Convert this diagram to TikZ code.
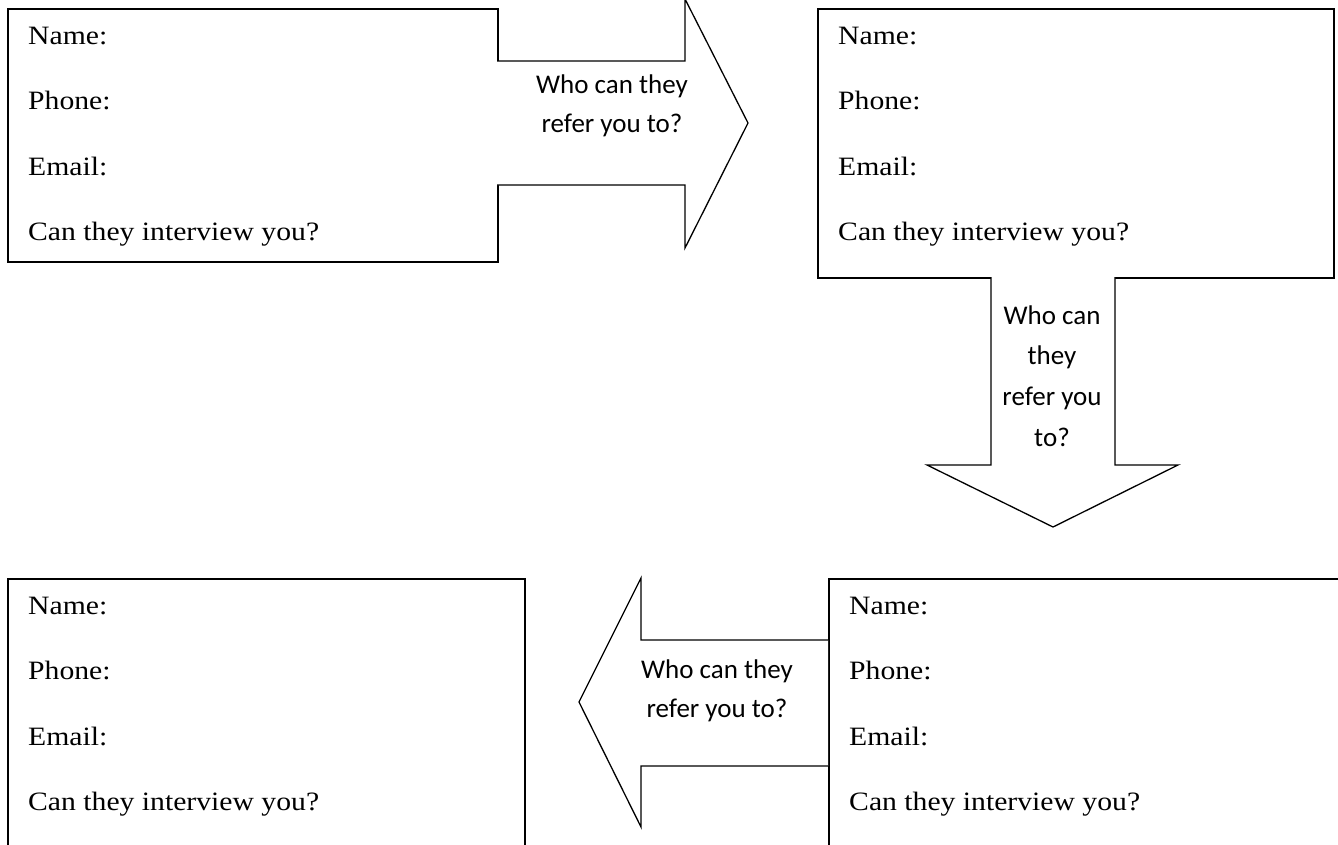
\documentclass[tikz,border=0pt]{standalone}
\usepackage{fontspec}
\setmainfont{Liberation Serif}[FakeStretch=1.12]
\newfontfamily\arrowfont{Carlito}
\tikzset{
  card/.style={draw=black,line width=1.5pt,fill=white,rectangle,inner sep=0pt,anchor=north west},
  field/.style={anchor=base west,inner sep=0pt,font=\fontsize{26.5}{30}\selectfont},
  blockarrow/.style={draw=black,line width=1.3pt,fill=white,line join=miter},
  hlabel/.style={align=center,inner sep=0pt,font=\arrowfont\fontsize{27}{39}\selectfont},
  vlabel/.style={align=center,inner sep=0pt,font=\arrowfont\fontsize{27}{40.7}\selectfont},
}
\begin{document}
\begin{tikzpicture}[x=1pt,y=-1pt]
\useasboundingbox (0,0) rectangle (1338,844);
\begin{scope}
\clip (0,0) rectangle (1338,844);
% boxes
\node[card,minimum width=490pt,minimum height=253pt] (b1) at (7,8) {};
\node[card,minimum width=516pt,minimum height=269pt] (b2) at (817,8) {};
\node[card,minimum width=540pt,minimum height=300pt] (b3) at (828,578) {};
\node[card,minimum width=517pt,minimum height=300pt] (b4) at (7,578) {};
% right arrow (b1 -> b2)
\coordinate (a1s) at (497,61);
\coordinate (a1e) at (497,185);
\draw[blockarrow] (a1s) -- (685,61) -- (685,-1) -- (748,123) -- (685,248) -- (685,185) -- (a1e);
% down arrow (b2 -> b3)
\coordinate (a2s) at (991,277);
\coordinate (a2e) at (1115,277);
\draw[blockarrow] (a2s) -- (991,465) -- (927,465) -- (1053,527) -- (1178,465) -- (1115,465) -- (a2e);
% left arrow (b3 -> b4)
\coordinate (a3s) at (828,640);
\coordinate (a3e) at (828,766);
\draw[blockarrow] (a3s) -- (641,640) -- (641,578) -- (579,702) -- (641,827) -- (641,766) -- (a3e);
% arrow labels
\node[hlabel] (t1) at (612,106) {Who can they\\refer you to?};
\node[vlabel] (t2) at (1052,376) {Who can\\they\\refer you\\to?};
\node[hlabel] (t3) at (717,691) {Who can they\\refer you to?};
% fields
\foreach \b/\X/\Y in {1/7/8, 2/817/8, 3/828/578, 4/7/578}{
  \node[field] (f\b n) at (\X+21,\Y+36) {Name:};
  \node[field] (f\b p) at (\X+21,\Y+101.5) {Phone:};
  \node[field] (f\b e) at (\X+21,\Y+167) {Email:};
  \node[field] (f\b c) at (\X+21,\Y+232) {Can they interview you?};
}
\end{scope}
\end{tikzpicture}
\end{document}
